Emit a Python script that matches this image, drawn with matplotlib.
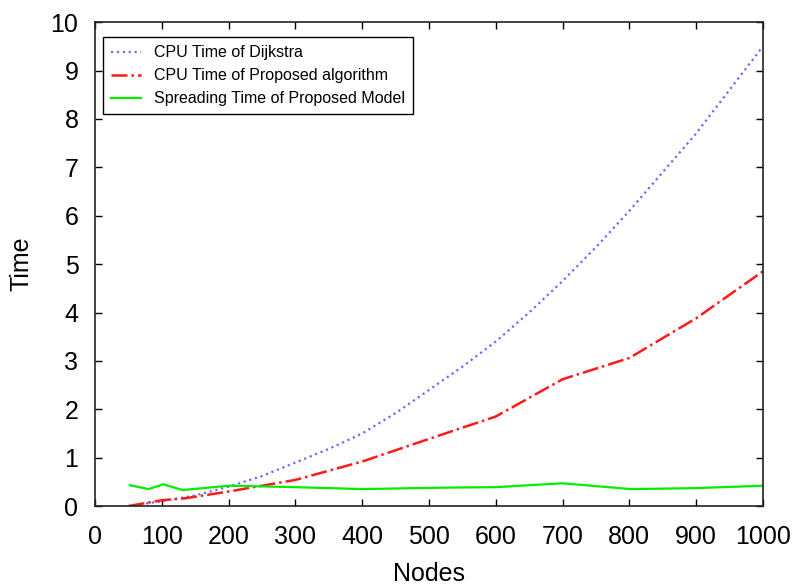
import matplotlib
matplotlib.use('Agg')
import matplotlib.pyplot as plt

plt.rcParams['font.family'] = ['Liberation Sans', 'DejaVu Sans']

# data
nodes_dijkstra = [50, 100, 150, 200, 250, 300, 350, 400, 450, 500, 550, 600,
                  650, 700, 750, 800, 850, 900, 950, 1000]
cpu_dijkstra = [0.0, 0.1, 0.22, 0.4, 0.62, 0.9, 1.18, 1.5, 1.92, 2.4, 2.88, 3.4,
                4.0, 4.65, 5.35, 6.1, 6.9, 7.7, 8.6, 9.5]

nodes_proposed = [50, 100, 135, 200, 300, 400, 520, 600, 700, 800, 900, 1000]
cpu_proposed = [0.0, 0.12, 0.16, 0.3, 0.54, 0.92, 1.48, 1.85, 2.62, 3.06, 3.88, 4.85]

nodes_spread = [52, 80, 102, 131, 200, 300, 400, 520, 600, 700, 803, 900, 1000]
spread_time = [0.43, 0.35, 0.45, 0.33, 0.42, 0.39, 0.35, 0.38, 0.39, 0.47, 0.35, 0.37, 0.42]

fig = plt.figure(figsize=(7.93, 5.85), dpi=100)
ax = fig.add_axes([0.12, 0.135, 0.842, 0.827])

ax.plot(nodes_dijkstra, cpu_dijkstra, color='#6a6aff', linestyle=':', linewidth=1.6,
        label='CPU Time of Dijkstra')
ax.plot(nodes_proposed, cpu_proposed, color='#ff1a1a', linestyle='-.', linewidth=1.8,
        label='CPU Time of Proposed algorithm')
ax.plot(nodes_spread, spread_time, color='#00ee00', linestyle='-', linewidth=1.6,
        label='Spreading Time of Proposed Model')

ax.set_xlim(0, 1000)
ax.set_ylim(0, 10)
ax.set_xticks(range(0, 1001, 100))
ax.set_yticks(range(0, 11))
ax.tick_params(direction='in', top=True, right=True, labelsize=18, length=5, width=1)
ax.tick_params(axis='x', pad=14)
ax.tick_params(axis='y', pad=12)
for s in ax.spines.values():
    s.set_linewidth(1.2)
    s.set_color('#222222')

ax.set_xlabel('Nodes', fontsize=18, labelpad=9)
ax.set_ylabel('Time', fontsize=18, labelpad=12)

leg = ax.legend(loc='upper left', fontsize=11.5, fancybox=False, framealpha=1,
                edgecolor='black', handlelength=1.9, borderpad=0.5, labelspacing=0.5,
                bbox_to_anchor=(0.0, 0.985))
leg.get_frame().set_linewidth(1.0)

fig.savefig('out.png', dpi=100)
